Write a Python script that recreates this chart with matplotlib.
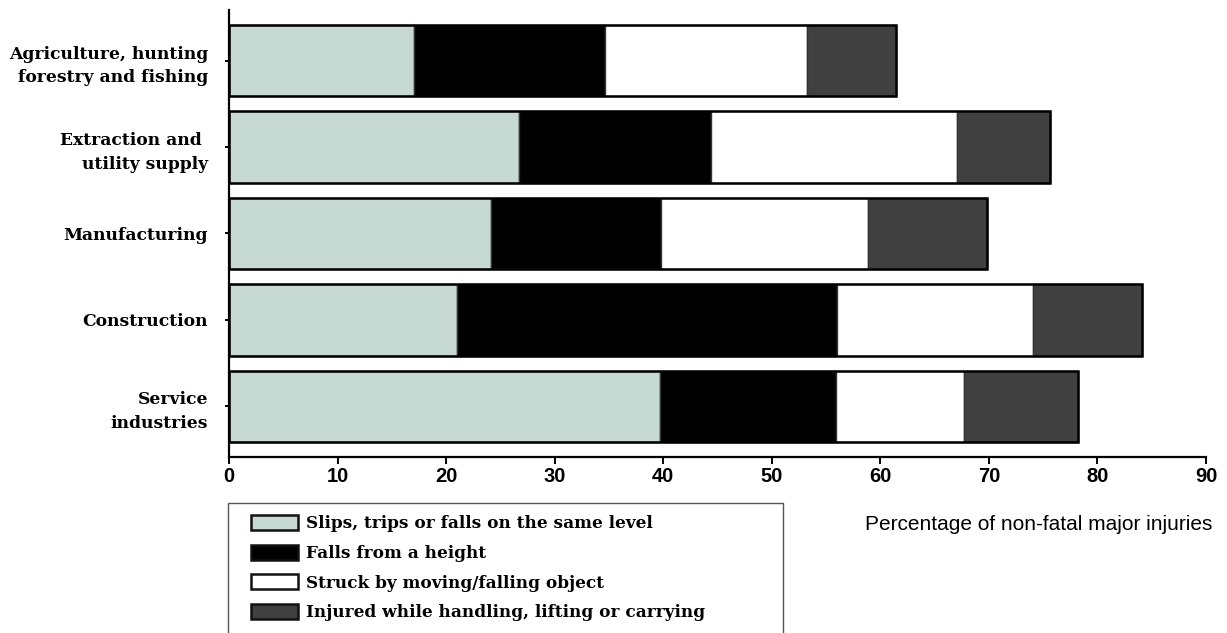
import matplotlib
matplotlib.use("Agg")
import matplotlib.pyplot as plt
from matplotlib.patches import Patch, Rectangle
import numpy as np

categories = ["Agriculture, hunting\nforestry and fishing",
              "Extraction and \nutility supply",
              "Manufacturing",
              "Construction",
              "Service\nindustries"]
series_names = ["Slips, trips or falls on the same level",
                "Falls from a height",
                "Struck by moving/falling object",
                "Injured while handling, lifting or carrying"]
slips = [17.0, 26.7, 24.1, 21.0, 39.7]
falls_height = [17.6, 17.7, 15.7, 35.0, 16.2]
struck = [18.6, 22.7, 19.1, 18.1, 11.8]
handling = [8.2, 8.5, 10.9, 10.0, 10.5]
x_ticks = [0, 10, 20, 30, 40, 50, 60, 70, 80, 90]
x_label = "Percentage of non-fatal major injuries"

colors = ["#C7D9D3", "#000000", "#FFFFFF", "#404040"]

W, H = 1227, 633
fig = plt.figure(figsize=(W / 100, H / 100), dpi=100)
ax = fig.add_axes([229 / W, 1 - 457 / H, (1206 - 229) / W, (457 - 10) / H])

ypos = np.arange(len(categories))
left = np.zeros(len(categories))
for vals, col in zip([slips, falls_height, struck, handling], colors):
    ax.barh(ypos, vals, left=left, height=0.825, color=col,
            edgecolor="#333333", linewidth=1.0, zorder=2)
    left = left + np.array(vals)
# outer outline of each stacked bar
ax.barh(ypos, left, height=0.825, facecolor="none", edgecolor="#000000",
        linewidth=1.8, zorder=3)

ax.set_xlim(0, 90)
ax.set_ylim(4.585, -0.585)
ax.set_xticks(x_ticks)
ax.set_xticklabels([str(t) for t in x_ticks], fontfamily="Liberation Sans",
                   fontweight="bold", fontsize=14.5)
ax.set_yticks(ypos)
ax.set_yticklabels(categories, fontfamily="DejaVu Serif", fontweight="bold",
                   fontsize=12.3, ha="right", multialignment="right",
                   linespacing=1.5)

for s in ["top", "right"]:
    ax.spines[s].set_visible(False)
for s in ["left", "bottom"]:
    ax.spines[s].set_linewidth(1.6)
    ax.spines[s].set_color("black")
ax.tick_params(axis="x", direction="out", length=5, width=1.4, pad=2)
ax.tick_params(axis="y", direction="out", length=3, width=1.4, pad=12)

fig.text(1212 / W, 1 - 530 / H, x_label, ha="right", va="baseline",
         fontfamily="Liberation Sans", fontsize=15)

# legend box (cut off at the bottom of the figure)
fig.patches.append(Rectangle((228 / W, -0.05), (783 - 228) / W, (633 - 503) / H + 0.05,
                             transform=fig.transFigure, facecolor="white",
                             edgecolor="#555555", linewidth=1.0, zorder=0))
handles = [Patch(facecolor=c, edgecolor="#111111", linewidth=1.8) for c in colors]
leg_fs = 12.2
fs_px = leg_fs * 100 / 72
fig.legend(handles, series_names, loc="upper left",
           bbox_to_anchor=(251 / W, 1 - 515 / H), frameon=False,
           borderpad=0, borderaxespad=0,
           handlelength=47 / fs_px, handleheight=17 / fs_px,
           handletextpad=8 / fs_px, labelspacing=0.72,
           prop={"family": "DejaVu Serif", "weight": "bold", "size": leg_fs})

fig.savefig("out.png", dpi=100)
